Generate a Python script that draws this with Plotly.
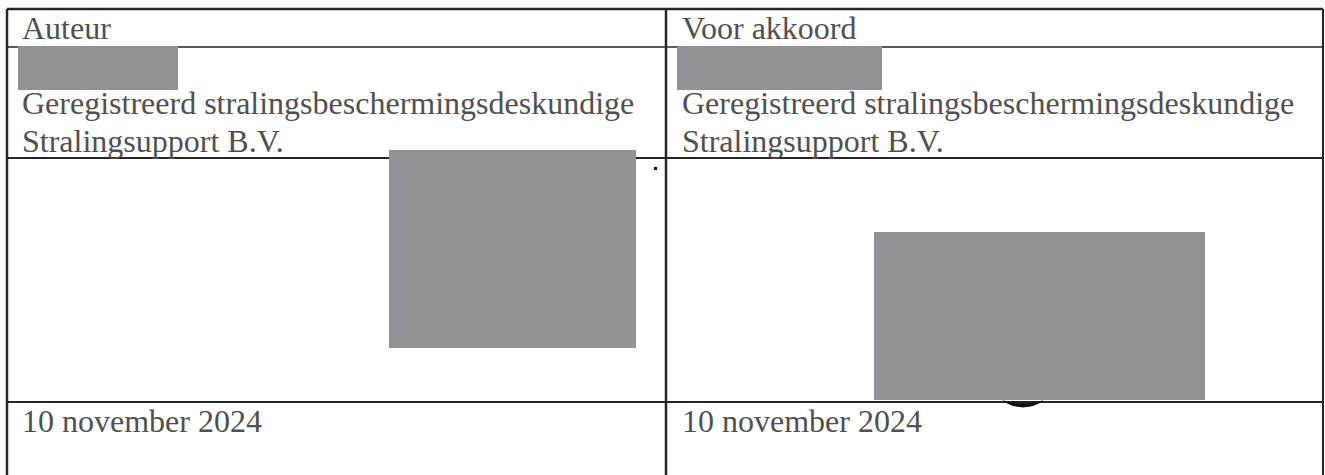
import plotly.graph_objects as go

# ---- content ----
header_labels = ["Auteur", "Voor akkoord"]
role_lines = ["Geregistreerd stralingsbeschermingsdeskundige", "Stralingsupport B.V."]
dates = ["10 november 2024", "10 november 2024"]

W, H = 1325, 475
FONT = "Liberation Serif, Times New Roman, serif"
FS = 32
TXT = "#505050"
LINE = "#262626"
RED = "#929396"

col_x = [22, 682]          # text left edge per column
x_left, x_mid, x_right = 7, 666, 1323
y_top, y_hdr, y_sig, y_date = 9, 47, 158, 402

fig = go.Figure()

shapes = []
def hline(y, x0, x1, w=2):
    shapes.append(dict(type="line", x0=x0, x1=x1, y0=y, y1=y, line=dict(color=LINE, width=w), layer="below"))
def vline(x, y0, y1, w=2):
    shapes.append(dict(type="line", x0=x, x1=x, y0=y0, y1=y1, line=dict(color=LINE, width=w), layer="below"))
def rect(x0, y0, x1, y1, color=RED):
    shapes.append(dict(type="rect", x0=x0, x1=x1, y0=y0, y1=y1, fillcolor=color, line=dict(width=0), layer="above"))

hline(y_top, x_left, x_right, 2.5)
hline(y_hdr, x_left, x_right, 1.5)
hline(y_sig, x_left, x_right, 2)
hline(y_date, x_left, x_right, 2)
vline(x_left, y_top, H + 5, 2.5)
vline(x_mid, y_top, H + 5, 2.5)
vline(x_right, y_top, H + 5, 2)

# small black arc below the right signature box
shapes.append(dict(type="path", path="M 1003,401 Q 1023,413 1043,401 Q 1023,406 1003,401 Z",
                   fillcolor="#111", line=dict(color="#111", width=1), layer="below"))
# small dot
shapes.append(dict(type="rect", x0=654, x1=657, y0=167, y1=170, fillcolor="#111", line=dict(width=0)))

# redactions
rect(18, 46, 178, 90)
rect(677, 46, 882, 90)
rect(389, 150, 636, 348)
rect(874, 232, 1205, 400)

annotations = []
def text(x, baseline, s):
    annotations.append(dict(x=x, y=baseline, text=s, showarrow=False, xanchor="left", yanchor="bottom",
                            xref="x", yref="y", font=dict(family=FONT, size=FS, color=TXT),
                            xshift=-2, yshift=-0.26 * FS))

for i, cx in enumerate(col_x):
    text(cx, 40, header_labels[i])
    text(cx, 115, role_lines[0])
    text(cx, 153, role_lines[1])
    text(cx, 433, dates[i])

fig.update_layout(
    width=W, height=H, margin=dict(l=0, r=0, t=0, b=0),
    paper_bgcolor="white", plot_bgcolor="white",
    xaxis=dict(range=[0, W], visible=False, fixedrange=True),
    yaxis=dict(range=[H, 0], visible=False, fixedrange=True),
    shapes=shapes, annotations=annotations, showlegend=False,
)
fig.write_html("out.html", config={"displayModeBar": False},
               post_script="document.body.style.margin='0';document.body.style.overflow='hidden';")
